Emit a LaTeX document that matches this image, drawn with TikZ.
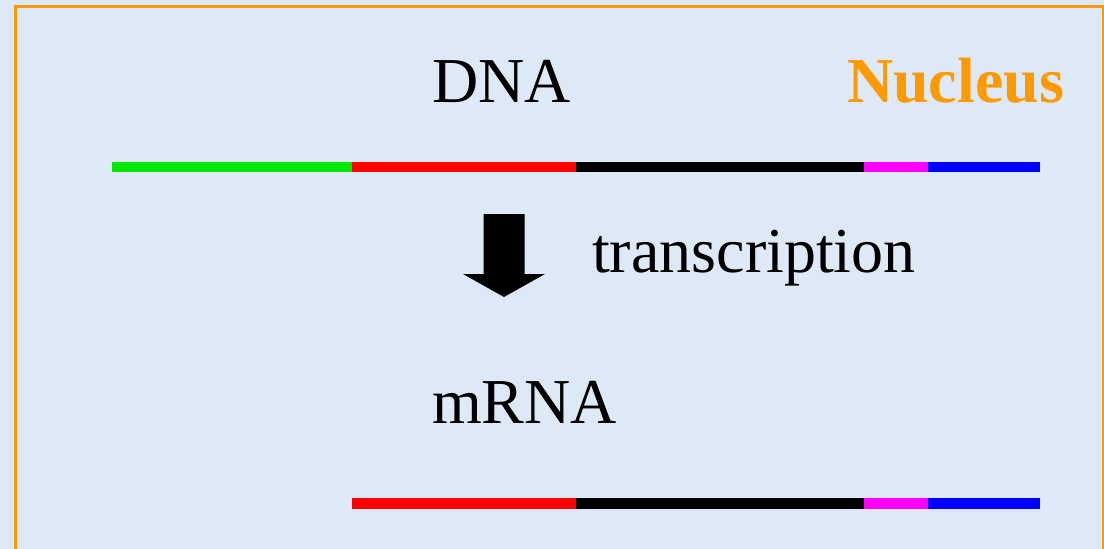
\documentclass[tikz,border=0pt]{standalone}
\usepackage{fontspec}
\setmainfont{Liberation Serif}
\definecolor{bgblue}{RGB}{221,233,247}
\definecolor{frameorange}{RGB}{255,153,0}
\definecolor{segred}{RGB}{255,0,0}
\definecolor{seggreen}{RGB}{0,230,0}
\definecolor{segmag}{RGB}{255,0,255}
\definecolor{segblue}{RGB}{0,0,255}
\tikzset{
  lbl/.style={anchor=base west, inner sep=0pt, font=\fontsize{64}{76}\selectfont, text=black},
  seg/.style={inner sep=0pt}
}
\begin{document}
\begin{tikzpicture}[x=1pt,y=-1pt]
\useasboundingbox (0,0) rectangle (1104,549);
\fill[bgblue] (0,0) rectangle (1104,549);
\draw[frameorange, line width=2.6pt] (15.5,560) -- (15.5,6.5) -- (1103,6.5) -- (1103,560);
% labels
\node[lbl] (dna) at (432,102) {DNA};
\node[lbl, text=frameorange, font=\fontsize{64}{76}\selectfont\bfseries] (nucleus) at (847,102) {Nucleus};
\node[lbl] (transcription) at (592,272.5) {transcription};
\node[lbl] (mrna) at (432,423.5) {mRNA};
% DNA bar
\fill[seggreen] (112,161.5) rectangle (352,172);
\fill[segred] (352,161.5) rectangle (576,172);
\fill[black] (576,161.5) rectangle (864,172);
\fill[segmag] (864,161.5) rectangle (928,172);
\fill[segblue] (928,161.5) rectangle (1040,172);
% mRNA bar
\fill[segred] (352,498) rectangle (576,509);
\fill[black] (576,498) rectangle (864,509);
\fill[segmag] (864,498) rectangle (928,509);
\fill[segblue] (928,498) rectangle (1040,509);
% block arrow
\fill[black] (483.5,214) -- (524.5,214) -- (524.5,274) -- (545,274) -- (504,297) -- (463,274) -- (483.5,274) -- cycle;
\end{tikzpicture}
\end{document}
